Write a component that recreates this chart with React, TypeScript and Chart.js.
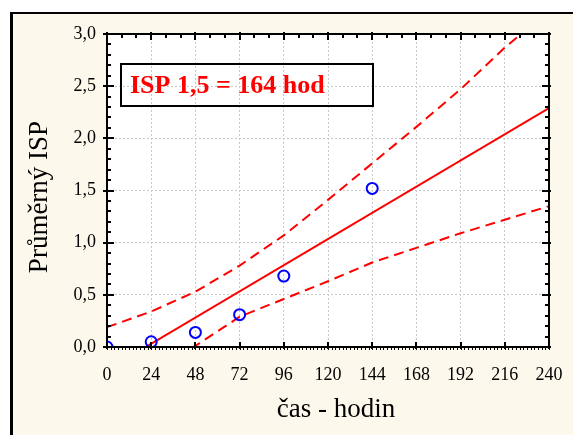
import React, { useEffect, useRef } from 'react';
import { Chart, registerables } from 'chart.js';

Chart.register(...registerables);

// ---- data ----
const hours = [0, 24, 48, 72, 96, 144];
const ispValues = [0.0, 0.05, 0.14, 0.31, 0.68, 1.52];

const fitHours = [0, 240];
const fitValues = [-0.22, 2.29];

const bandHours = [0, 24, 48, 72, 96, 120, 144, 168, 192, 216, 240];
const upperBand = [0.19, 0.34, 0.53, 0.78, 1.07, 1.41, 1.76, 2.11, 2.47, 2.87, 3.22];
const lowerBand = [-0.45, -0.2, 0.01, 0.29, 0.46, 0.63, 0.81, 0.95, 1.09, 1.22, 1.35];

const xMin = 0;
const xMax = 240;
const xStep = 24;
const yMin = 0;
const yMax = 3;
const yStep = 0.5;

const annotationText = 'ISP 1,5 = 164 hod';
const xTitle = 'čas - hodin';
const yTitle = 'Průměrný ISP';

const SERIF = '"Liberation Serif", "Times New Roman", serif';
const CREAM = '#FDF8EC';
const RED = '#FF0000';
const BLUE = '#0000FF';

const decorPlugin = {
  id: 'decor',
  beforeDraw(chart: any) {
    const { ctx, width, height, chartArea: ca } = chart;
    ctx.save();
    ctx.fillStyle = '#FFFFFF';
    ctx.fillRect(0, 0, width, height);
    ctx.fillStyle = '#000000';
    ctx.fillRect(10, 12, width, height);
    ctx.fillStyle = CREAM;
    ctx.fillRect(13, 14, width, height);
    ctx.fillStyle = '#FFFFFF';
    ctx.fillRect(ca.left, ca.top, ca.right - ca.left, ca.bottom - ca.top);
    ctx.restore();
  },
  afterDraw(chart: any) {
    const { ctx, chartArea: ca, scales } = chart;
    const xs = scales.x;
    const ys = scales.y;
    const x0 = ca.left, x1 = ca.right, y0 = ca.top, y1 = ca.bottom;
    ctx.save();
    ctx.strokeStyle = '#000000';
    const line = (ax: number, ay: number, bx: number, by: number, w: number) => {
      ctx.lineWidth = w;
      ctx.beginPath();
      ctx.moveTo(ax, ay);
      ctx.lineTo(bx, by);
      ctx.stroke();
    };
    // y ticks (left and right)
    for (let i = 0; i <= 30; i++) {
      const y = Math.round(ys.getPixelForValue(i / 10));
      if (i % 5 === 0) {
        line(x0 - 4, y, x0 + 7, y, 2);
        line(x1 - 7, y, x1 + 2, y, 2);
      } else {
        line(x0, y, x0 + 4, y, 2);
        line(x1 - 4, y, x1, y, 2);
      }
    }
    // x ticks top (every 8h) and bottom (every 2h)
    for (let h = 0; h <= 240; h += 8) {
      const x = Math.round(xs.getPixelForValue(h));
      if (h % 24 === 0) line(x, y0 - 2, x, y0 + 6, 2);
      else line(x, y0, x, y0 + 4, 2);
    }
    for (let h = 0; h <= 240; h += 2) {
      const x = Math.round(xs.getPixelForValue(h)) + 0.5;
      line(x, y1, x, y1 + 3, 1);
    }
    for (let h = 0; h <= 240; h += 24) {
      const x = Math.round(xs.getPixelForValue(h));
      line(x, y1 + 2, x, y1 - 5, 2);
    }
    // frame
    ctx.lineWidth = 2;
    ctx.strokeRect(x0, y0, x1 - x0, y1 - y0);

    // annotation box
    ctx.lineWidth = 2;
    ctx.strokeRect(x0 + 14, y0 + 30, 252, 42);
    ctx.fillStyle = RED;
    ctx.font = `bold 26px ${SERIF}`;
    ctx.textAlign = 'left';
    ctx.textBaseline = 'middle';
    ctx.fillText(annotationText, x0 + 23, y0 + 52);

    // axis titles
    ctx.fillStyle = '#000000';
    ctx.font = `27px ${SERIF}`;
    ctx.textAlign = 'center';
    ctx.textBaseline = 'middle';
    ctx.fillText(xTitle, 336, 410);
    ctx.translate(40, 197);
    ctx.rotate(-Math.PI / 2);
    ctx.fillText(yTitle, 0, 0);
    ctx.restore();
  },
};

export default function App() {
  const ref = useRef<HTMLCanvasElement | null>(null);

  useEffect(() => {
    if (!ref.current) return;
    const toXY = (xa: number[], ya: number[]) => xa.map((x, i) => ({ x, y: ya[i] }));
    const chart = new Chart(ref.current, {
      type: 'scatter',
      data: {
        datasets: [
          {
            label: 'ISP',
            data: toXY(hours, ispValues),
            showLine: false,
            pointStyle: 'circle',
            pointRadius: 5.5,
            pointBorderWidth: 2,
            pointBorderColor: BLUE,
            pointBackgroundColor: 'rgba(0,0,0,0)',
            clip: 0,
          },
          {
            label: 'fit',
            data: toXY(fitHours, fitValues),
            showLine: true,
            borderColor: RED,
            borderWidth: 2,
            pointRadius: 0,
            clip: 0,
          },
          {
            label: 'upper',
            data: toXY(bandHours, upperBand),
            showLine: true,
            borderColor: RED,
            borderWidth: 2,
            borderDash: [10, 6],
            pointRadius: 0,
            clip: 0,
          },
          {
            label: 'lower',
            data: toXY(bandHours, lowerBand),
            showLine: true,
            borderColor: RED,
            borderWidth: 2,
            borderDash: [10, 6],
            pointRadius: 0,
            clip: 0,
          },
        ],
      } as any,
      options: {
        animation: false,
        responsive: false,
        devicePixelRatio: 1,
        layout: { padding: { left: 0, top: 34, right: 24, bottom: 48 } },
        plugins: { legend: { display: false }, tooltip: { enabled: false } },
        scales: {
          x: {
            type: 'linear',
            min: xMin,
            max: xMax,
            afterFit: (s: any) => { s.height = 40; s.paddingLeft = 0; s.paddingRight = 0; },
            ticks: {
              stepSize: xStep,
              padding: 17,
              color: '#000000',
              font: { family: SERIF, size: 18 },
              maxRotation: 0,
            },
            grid: { color: '#C8C8C8', lineWidth: 1, drawTicks: false },
            border: { display: false, dash: [2, 2] },
          },
          y: {
            type: 'linear',
            min: yMin,
            max: yMax,
            afterFit: (s: any) => { s.width = 107; s.paddingTop = 0; s.paddingBottom = 0; },
            ticks: {
              stepSize: yStep,
              padding: 11,
              color: '#000000',
              font: { family: SERIF, size: 18 },
              callback: (v: any) => Number(v).toFixed(1).replace('.', ','),
            },
            grid: { color: '#C8C8C8', lineWidth: 1, drawTicks: false },
            border: { display: false, dash: [2, 2] },
          },
        },
      } as any,
      plugins: [decorPlugin],
    });
    return () => chart.destroy();
  }, []);

  return (
    <div style={{ position: 'absolute', left: 0, top: 0, width: 573, height: 435 }}>
      <canvas ref={ref} width={573} height={435} />
    </div>
  );
}
